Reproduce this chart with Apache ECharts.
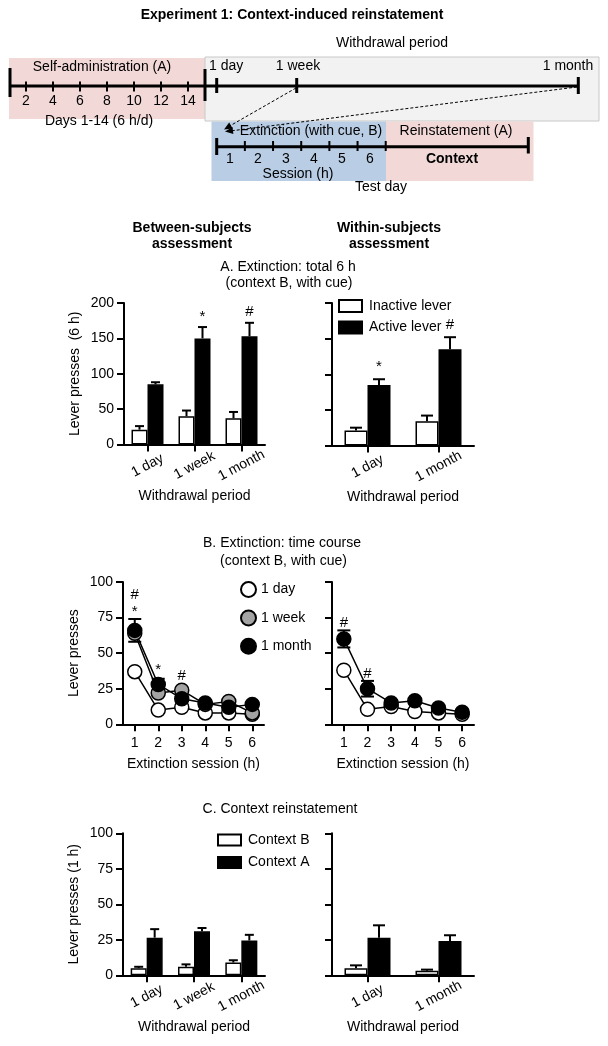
<!DOCTYPE html>
<html><head><meta charset="utf-8">
<script src="https://cdn.jsdelivr.net/npm/echarts@6/dist/echarts.min.js"></script>
<style>html,body{margin:0;padding:0;background:#fff}#c{width:608px;height:1046px}</style>
</head><body><div id="c"></div>
<script>
// ---------- categories / tick labels ----------
const withdrawal3 = ['1 day', '1 week', '1 month'];
const withdrawal2 = ['1 day', '1 month'];
const sessions = ['1', '2', '3', '4', '5', '6'];
const dayTicks = ['2', '4', '6', '8', '10', '12', '14'];
const sessionTicks = ['1', '2', '3', '4', '5', '6'];

// ---------- Panel A: total 6 h extinction ----------
const aBetweenInactive = [21, 40, 37];
const aBetweenInactiveErr = [5, 8, 9];
const aBetweenActive = [85, 150, 153];
const aBetweenActiveErr = [3, 16, 19];
const aBetweenSig = ['', '*', '#'];
const aWithinInactive = [21, 34];
const aWithinInactiveErr = [4, 8];
const aWithinActive = [85, 135];
const aWithinActiveErr = [8, 17];
const aWithinSig = ['*', '#'];

// ---------- Panel B: extinction time course ----------
const bBetweenDay = [37, 10, 12, 8, 8, 7];
const bBetweenWeek = [64, 22, 24, 14, 16, 8];
const bBetweenMonth = [66, 28, 18, 15, 12, 14];
const bBetweenMonthErr = [8, 4, 2, 2, 2, 2];
const bBetweenSig = ['#\n*', '*', '#', '', '', ''];
const bWithinDay = [38, 10.5, 12.5, 9, 8, 7];
const bWithinMonth = [60, 25, 15, 16.5, 11.5, 8.5];
const bWithinMonthErr = [6, 5.5, 2, 2, 2, 2];
const bWithinSig = ['#', '#', '', '', '', ''];

// ---------- Panel C: context reinstatement ----------
const cBetweenB = [5, 6, 9];
const cBetweenBErr = [1, 1.7, 1.6];
const cBetweenA = [26.5, 31, 24.5];
const cBetweenAErr = [6, 2.3, 4];
const cWithinB = [5, 3.2];
const cWithinBErr = [2, 0.8];
const cWithinA = [26.5, 24.2];
const cWithinAErr = [8.7, 4];

const FONT = "'Liberation Sans', Arial, Helvetica, sans-serif";
const BLACK = '#000';

function txt(text, x, y, o) {
  o = o || {};
  const al = o.align || 'center';
  return { type: 'text', silent: true, style: {
    text: text, x: x, y: y, fill: BLACK,
    font: (o.bold ? 'bold ' : '') + (o.size || 14) + 'px ' + FONT,
    textAlign: al, align: al, textVerticalAlign: 'middle', verticalAlign: 'middle' } };
}
function ln(x1, y1, x2, y2, w, dash) {
  const st = { stroke: BLACK, lineWidth: w };
  if (dash) st.lineDash = dash;
  return { type: 'line', silent: true, shape: { x1: x1, y1: y1, x2: x2, y2: y2 }, style: st };
}
function rect(x, y, w, h, fill, stroke) {
  const st = { fill: fill };
  if (stroke) { st.stroke = stroke; st.lineWidth = 1; }
  return { type: 'rect', silent: true, shape: { x: x, y: y, width: w, height: h }, style: st };
}
function arrowHead(sx, sy, tx, ty) {
  const dx = tx - sx, dy = ty - sy, L = Math.hypot(dx, dy);
  const ux = dx / L, uy = dy / L, nx = -uy, ny = ux, len = 8, hw = 3.5;
  return { type: 'polygon', silent: true, shape: { points: [[tx, ty],
    [tx - ux * len + nx * hw, ty - uy * len + ny * hw],
    [tx - ux * len - nx * hw, ty - uy * len - ny * hw]] }, style: { fill: BLACK } };
}

// ---------- schematic (timeline) ----------
const g = [];
g.push(txt('Experiment 1: Context-induced reinstatement', 292, 15, { bold: true }));
g.push(rect(9, 58, 196, 61, '#f2d9d7'));
g.push(rect(205, 57, 394, 64, '#f2f2f2', '#c8c8c8'));
g.push(rect(211.5, 121.5, 174.5, 59.5, '#b9cde4'));
g.push(rect(386, 121.5, 147.5, 59.5, '#f2d9d7'));
g.push(txt('Withdrawal period', 392, 43));
g.push(txt('Self-administration (A)', 102, 67));
g.push(txt('1 day', 209, 66, { align: 'left' }));
g.push(txt('1 week', 298, 66));
g.push(txt('1 month', 568, 66));
g.push(ln(10, 86, 578, 86, 3));
g.push(ln(10, 68, 10, 97, 3));
g.push(ln(205, 69, 205, 101, 3));
g.push(ln(216.7, 78, 216.7, 93, 3));
g.push(ln(296.7, 78, 296.7, 93, 3));
g.push(ln(578.3, 77, 578.3, 94, 3));
dayTicks.forEach(function (d, i) {
  const x = 26 + i * 27;
  g.push(ln(x, 81.5, x, 91.5, 2));
  g.push(txt(d, x, 101));
});
g.push(txt('Days 1-14 (6 h/d)', 99, 121));
// session line
g.push(ln(216.7, 146.7, 528.3, 146.7, 3));
g.push(ln(216.7, 138, 216.7, 155, 3));
g.push(ln(528.3, 137, 528.3, 153.5, 3));
for (let k = 1; k <= 6; k++) {
  const x = 216.7 + k * 28.17;
  g.push(ln(x, 141, x, 151, 2));
}
sessionTicks.forEach(function (s, i) { g.push(txt(s, 230 + i * 28, 159.5)); });
g.push(txt('Extinction (with cue, B)', 311, 131));
g.push(txt('Reinstatement (A)', 456, 131));
g.push(txt('Context', 452, 159, { bold: true }));
g.push(txt('Session (h)', 298, 174));
g.push(txt('Test day', 381, 187));
g.push(ln(296, 88, 228, 127, 1, [3, 2]));
g.push(arrowHead(296, 88, 224, 129.5));
g.push(ln(577, 87, 230, 131, 1, [3, 2]));
g.push(arrowHead(577, 87, 225, 131.5));
// panel headings
g.push(txt('Between-subjects', 192, 228, { bold: true }));
g.push(txt('assessment', 192, 244, { bold: true }));
g.push(txt('Within-subjects', 389, 228, { bold: true }));
g.push(txt('assessment', 389, 244, { bold: true }));
g.push(txt('A. Extinction: total 6 h', 288, 267));
g.push(txt('(context B, with cue)', 289, 283.5));
g.push(txt('B. Extinction: time course', 282, 543.5));
g.push(txt('(context B, with cue)', 283.5, 561));
g.push(txt('C. Context reinstatement', 280, 809.5));

// ---------- axes ----------
const grids = [
  { left: 124, top: 303, width: 141, height: 141.5 },
  { left: 332, top: 303, width: 142, height: 142.5 },
  { left: 123, top: 582, width: 141, height: 142.3 },
  { left: 332, top: 582, width: 142, height: 142.3 },
  { left: 123, top: 833.3, width: 142, height: 142 },
  { left: 332, top: 833.3, width: 142, height: 142 }
];
const axLine = { show: true, lineStyle: { color: BLACK, width: 2 } };
const axTick = { show: true, length: 7, alignWithLabel: true, lineStyle: { color: BLACK, width: 2 } };
const tStyle = { fontSize: 14, color: BLACK, fontFamily: FONT };
function catAxis(gi, data, name, rot) {
  const a = { type: 'category', gridIndex: gi, data: data, boundaryGap: true,
    axisLine: axLine, axisTick: axTick,
    axisLabel: Object.assign({ margin: 12, interval: 0 }, tStyle),
    name: name, nameLocation: 'middle', nameGap: 33, nameTextStyle: tStyle };
  if (rot) {
    a.axisLabel = Object.assign({ rotate: 28, align: 'center', verticalAlign: 'middle', margin: 21, interval: 0 }, tStyle);
    a.nameGap = 45;
  }
  return a;
}
function valAxis(gi, max, interval, name, labels) {
  return { type: 'value', gridIndex: gi, min: 0, max: max, interval: interval,
    axisLine: axLine, axisTick: { show: true, length: 7, lineStyle: { color: BLACK, width: 2 } },
    splitLine: { show: false },
    axisLabel: Object.assign({ show: labels, margin: 10 }, tStyle),
    name: name, nameLocation: 'middle', nameGap: 42, nameRotate: 90, nameTextStyle: tStyle };
}
const xAxis = [
  catAxis(0, withdrawal3, 'Withdrawal period', true),
  catAxis(1, withdrawal2, 'Withdrawal period', true),
  catAxis(2, sessions, 'Extinction session (h)', false),
  catAxis(3, sessions, 'Extinction session (h)', false),
  catAxis(4, withdrawal3, 'Withdrawal period', true),
  catAxis(5, withdrawal2, 'Withdrawal period', true)
];
const yAxis = [
  valAxis(0, 200, 50, 'Lever presses  (6 h)', true),
  valAxis(1, 200, 50, '', false),
  valAxis(2, 100, 25, 'Lever presses', true),
  valAxis(3, 100, 25, '', false),
  valAxis(4, 100, 25, 'Lever presses (1 h)', true),
  valAxis(5, 100, 25, '', false)
];

// ---------- series helpers ----------
const whiteBar = { color: '#fff', borderColor: BLACK, borderWidth: 1.5 };
const blackBar = { color: BLACK, borderColor: BLACK, borderWidth: 1.5 };
function bar(gi, name, data, style, w) {
  return { type: 'bar', name: name, xAxisIndex: gi, yAxisIndex: gi, data: data,
    barWidth: w, barGap: '0%', itemStyle: style, z: 2, silent: true };
}
function errSeries(gi, vals, errs, offset, cap, both, sig, sigOff) {
  return { type: 'custom', xAxisIndex: gi, yAxisIndex: gi, silent: true, z: 1,
    data: vals.map(function (v, i) { return [i, v, errs[i]]; }),
    encode: { x: 0, y: 1 },
    renderItem: function (params, api) {
      const i = api.value(0), v = api.value(1), e = api.value(2);
      const c = api.coord([i, v]);
      const t = api.coord([i, v + e]);
      const x = c[0] + offset, hc = cap / 2;
      const ch = [];
      if (e > 0) {
        const y0 = both ? api.coord([i, v - e])[1] : c[1];
        ch.push({ type: 'line', shape: { x1: x, y1: y0, x2: x, y2: t[1] }, style: { stroke: BLACK, lineWidth: 2 } });
        ch.push({ type: 'line', shape: { x1: x - hc, y1: t[1], x2: x + hc, y2: t[1] }, style: { stroke: BLACK, lineWidth: 2 } });
        if (both) ch.push({ type: 'line', shape: { x1: x - hc, y1: y0, x2: x + hc, y2: y0 }, style: { stroke: BLACK, lineWidth: 2 } });
      }
      if (sig && sig[params.dataIndex]) {
        ch.push({ type: 'text', style: { text: sig[params.dataIndex], x: x, y: t[1] - sigOff,
          textAlign: 'center', align: 'center', textVerticalAlign: 'bottom', verticalAlign: 'bottom',
          font: '15px ' + FONT, fill: BLACK } });
      }
      return { type: 'group', children: ch };
    } };
}
function lineS(gi, name, data, fill) {
  return { type: 'line', name: name, xAxisIndex: gi, yAxisIndex: gi, data: data,
    symbol: 'circle', symbolSize: 14, silent: true, z: 3,
    lineStyle: { color: BLACK, width: 1.5 },
    itemStyle: { color: fill, borderColor: BLACK, borderWidth: 1.5 } };
}
function sigSeries(gi, lists, errLists, sig) {
  return { type: 'custom', xAxisIndex: gi, yAxisIndex: gi, silent: true, z: 5,
    data: sig.map(function (s, i) { return [i, 0]; }), encode: { x: 0, y: 1 },
    renderItem: function (params, api) {
      const i = params.dataIndex, s = sig[i];
      if (!s) return { type: 'group', children: [] };
      let top = Infinity;
      lists.forEach(function (arr, k) {
        const v = arr[i], e = errLists[k] ? errLists[k][i] : 0;
        top = Math.min(top, api.coord([i, v + e])[1], api.coord([i, v])[1] - 7);
      });
      const x = api.coord([i, 0])[0];
      return { type: 'text', style: { text: s, x: x, y: top + 1, lineHeight: 17,
        textAlign: 'center', align: 'center', textVerticalAlign: 'bottom', verticalAlign: 'bottom',
        font: '15px ' + FONT, fill: BLACK } };
    } };
}

const series = [
  // A left
  bar(0, 'Inactive lever', aBetweenInactive, whiteBar, 16),
  bar(0, 'Active lever', aBetweenActive, blackBar, 16),
  errSeries(0, aBetweenInactive, aBetweenInactiveErr, -8, 9, false),
  errSeries(0, aBetweenActive, aBetweenActiveErr, 8, 9, false, aBetweenSig, 3),
  // A right
  bar(1, 'Inactive lever', aWithinInactive, whiteBar, 23),
  bar(1, 'Active lever', aWithinActive, blackBar, 23),
  errSeries(1, aWithinInactive, aWithinInactiveErr, -11.5, 12, false),
  errSeries(1, aWithinActive, aWithinActiveErr, 11.5, 12, false, aWithinSig, 5),
  // B left
  errSeries(2, bBetweenMonth, bBetweenMonthErr, 0, 13, true),
  lineS(2, '1 day', bBetweenDay, '#fff'),
  lineS(2, '1 week', bBetweenWeek, '#a3a3a3'),
  lineS(2, '1 month', bBetweenMonth, BLACK),
  sigSeries(2, [bBetweenDay, bBetweenWeek, bBetweenMonth], [null, null, bBetweenMonthErr], bBetweenSig),
  // B right
  errSeries(3, bWithinMonth, bWithinMonthErr, 0, 13, true),
  lineS(3, '1 day', bWithinDay, '#fff'),
  lineS(3, '1 month', bWithinMonth, BLACK),
  sigSeries(3, [bWithinDay, bWithinMonth], [null, bWithinMonthErr], bWithinSig),
  // C left
  bar(4, 'Context B', cBetweenB, whiteBar, 16),
  bar(4, 'Context A', cBetweenA, blackBar, 16),
  errSeries(4, cBetweenB, cBetweenBErr, -8, 9, false),
  errSeries(4, cBetweenA, cBetweenAErr, 8, 9, false),
  // C right
  bar(5, 'Context B', cWithinB, whiteBar, 23),
  bar(5, 'Context A', cWithinA, blackBar, 23),
  errSeries(5, cWithinB, cWithinBErr, -11.5, 12, false),
  errSeries(5, cWithinA, cWithinAErr, 11.5, 12, false)
];

const legendText = { fontSize: 14, color: BLACK, fontFamily: FONT, padding: [0, 0, 0, 2] };
const legend = [
  { data: ['Inactive lever', 'Active lever'], orient: 'vertical', left: 333, top: 294,
    itemWidth: 23, itemHeight: 12, itemGap: 7.6, icon: 'rect', selectedMode: false, textStyle: legendText },
  { data: ['1 day', '1 week', '1 month'], orient: 'vertical', left: 235, top: 576,
    itemWidth: 15, itemHeight: 15, itemGap: 11.4, icon: 'circle', selectedMode: false,
    textStyle: { fontSize: 14, color: BLACK, fontFamily: FONT } },
  { data: ['Context B', 'Context A'], orient: 'vertical', left: 212, top: 828,
    itemWidth: 23, itemHeight: 11, itemGap: 8.4, icon: 'rect', selectedMode: false, textStyle: legendText }
];

const chart = echarts.init(document.getElementById('c'), null, { renderer: 'canvas' });
chart.setOption({
  animation: false,
  backgroundColor: '#fff',
  textStyle: { fontFamily: FONT },
  grid: grids, xAxis: xAxis, yAxis: yAxis, series: series, legend: legend,
  graphic: { elements: g }
});
</script></body></html>
